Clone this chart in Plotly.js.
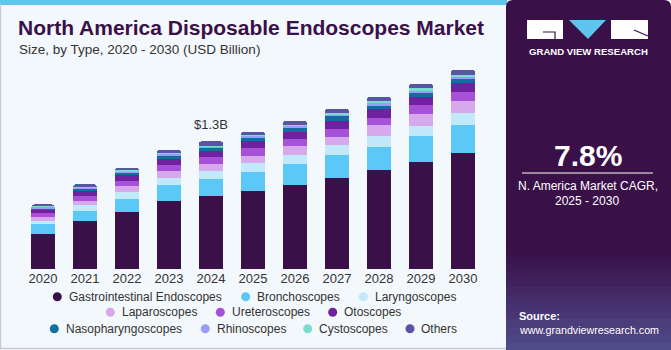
<!DOCTYPE html>
<html>
<head>
<meta charset="utf-8">
<script src="https://cdn.plot.ly/plotly-3.0.1.min.js"></script>
<style>
  html, body { margin: 0; padding: 0; background: #f3f8fc; }
  #chart { width: 671px; height: 350px; }
</style>
</head>
<body>
<div id="chart"></div>
<script>
// ---------- DATA (USD Billion) ----------
const years = ['2020','2021','2022','2023','2024','2025','2026','2027','2028','2029','2030'];
const gastrointestinal = [0.360, 0.490, 0.576, 0.688, 0.738, 0.789, 0.856, 0.924, 1.005, 1.087, 1.173];
const bronchoscopes    = [0.094, 0.099, 0.135, 0.166, 0.176, 0.199, 0.210, 0.234, 0.237, 0.267, 0.284];
const laryngoscopes    = [0.037, 0.061, 0.071, 0.074, 0.081, 0.088, 0.091, 0.098, 0.108, 0.102, 0.128];
const laparoscopes     = [0.037, 0.041, 0.058, 0.065, 0.071, 0.071, 0.088, 0.087, 0.112, 0.119, 0.122];
const ureteroscopes    = [0.045, 0.054, 0.057, 0.064, 0.074, 0.081, 0.077, 0.081, 0.074, 0.088, 0.088];
const otoscopes        = [0.023, 0.045, 0.058, 0.061, 0.061, 0.068, 0.071, 0.081, 0.088, 0.088, 0.098];
const nasopharyngo     = [0.017, 0.023, 0.020, 0.034, 0.024, 0.039, 0.043, 0.045, 0.034, 0.037, 0.036];
const rhinoscopes      = [0.013, 0.010, 0.013, 0.014, 0.013, 0.012, 0.015, 0.016, 0.024, 0.024, 0.023];
const cystoscopes      = [0.010, 0.010, 0.014, 0.013, 0.013, 0.013, 0.013, 0.017, 0.023, 0.023, 0.020];
const others           = [0.020, 0.027, 0.026, 0.030, 0.045, 0.034, 0.038, 0.041, 0.044, 0.048, 0.048];

const seriesNames = ['Gastrointestinal Endoscopes','Bronchoscopes','Laryngoscopes','Laparoscopes',
  'Ureteroscopes','Otoscopes','Nasopharyngoscopes','Rhinoscopes','Cystoscopes','Others'];
const seriesValues = [gastrointestinal, bronchoscopes, laryngoscopes, laparoscopes, ureteroscopes,
  otoscopes, nasopharyngo, rhinoscopes, cystoscopes, others];
const seriesColors = ['#3a1049','#5bc8f7','#c1e9fb','#d5a9ec','#a651d8','#6e22a0','#126ea0','#9a9cf7','#7bdccb','#5955a5'];

const labelYear = '2024';
const labelText = '$1.3B';
const cagrText = '7.8%';
const cagrCaption1 = 'N. America Market CAGR,';
const cagrCaption2 = '2025 - 2030';
const titleText = 'North America Disposable Endoscopes Market';
const subtitleText = 'Size, by Type, 2020 - 2030 (USD Billion)';

// ---------- LAYOUT HELPERS (pixel -> paper) ----------
const M = {l: 22, r: 187, t: 63, b: 81};
const PW = 671 - M.l - M.r, PH = 350 - M.t - M.b;
const px = x => (x - M.l) / PW;
const py = y => (350 - M.b - y) / PH;

const FONT = 'Liberation Sans, Arial, sans-serif';
const TXT = '#333333';

// ---------- TRACES ----------
const traces = seriesNames.map((n, i) => ({
  type: 'bar', name: n, x: years, y: seriesValues[i],
  marker: {color: seriesColors[i], line: {width: 0}},
  showlegend: false, hoverinfo: 'skip'
}));

// total for label
const idx = years.indexOf(labelYear);
const labelTotal = seriesValues.reduce((s, arr) => s + arr[idx], 0);

// ---------- SHAPES ----------
const shapes = [];
// top stripe
shapes.push({type:'rect', xref:'paper', yref:'paper', x0:px(0), x1:px(507), y0:py(0), y1:py(5),
  fillcolor:'#5ec5ef', line:{width:0}, layer:'below'});
// outer border (left & bottom)
shapes.push({type:'path', xref:'paper', yref:'paper',
  path:`M ${px(0.5)},${py(4)} L ${px(0.5)},${py(348.5)} L ${px(507)},${py(348.5)}`,
  line:{color:'#c9cbd0', width:1.5}, layer:'below'});
// right panel
shapes.push({type:'path', xref:'paper', yref:'paper',
  path:`M ${px(506)},${py(350)} L ${px(506)},${py(7)} Q ${px(506)},${py(0)} ${px(513)},${py(0)} L ${px(664)},${py(0)} Q ${px(671)},${py(0)} ${px(671)},${py(7)} L ${px(671)},${py(350)} Z`,
  fillcolor:'#3a1049', line:{width:0}, layer:'below'});
// panel bottom glow bands
for (let k = 0; k < 12; k++) {
  const y0 = 255 + k * 8, y1 = y0 + 8;
  shapes.push({type:'rect', xref:'paper', yref:'paper', x0:px(506), x1:px(671), y0:py(y0), y1:py(Math.min(y1,350)),
    fillcolor:'rgba(110,160,230,' + (0.03 + k * 0.035).toFixed(3) + ')', line:{width:0}, layer:'below'});
}
// logo blocks
shapes.push({type:'rect', xref:'paper', yref:'paper', x0:px(527), x1:px(563), y0:py(20), y1:py(39),
  fillcolor:'#ffffff', line:{width:0}});
shapes.push({type:'path', xref:'paper', yref:'paper',
  path:`M ${px(543)},${py(32)} L ${px(555)},${py(32)} L ${px(555)},${py(39)}`,
  line:{color:'#3a1049', width:1.2}});
shapes.push({type:'path', xref:'paper', yref:'paper',
  path:`M ${px(569)},${py(20)} L ${px(606)},${py(20)} L ${px(588)},${py(39)} Z`,
  fillcolor:'#5ec5ef', line:{width:0}});
shapes.push({type:'rect', xref:'paper', yref:'paper', x0:px(611), x1:px(648), y0:py(20), y1:py(39),
  fillcolor:'#ffffff', line:{width:0}});
shapes.push({type:'path', xref:'paper', yref:'paper',
  path:`M ${px(634)},${py(30)} L ${px(648)},${py(36)}`,
  line:{color:'#3a1049', width:1.2}});
// CAGR separator line
shapes.push({type:'line', xref:'paper', yref:'paper', x0:px(522), x1:px(653), y0:py(173), y1:py(173),
  line:{color:'#ffffff', width:1}});

// ---------- LEGEND (manual, circles + text) ----------
const legendPos = [
  [57.3, 296.7], [245.7, 296.7], [363.3, 296.7],
  [110.3, 312.3], [220.3, 312.3], [332.7, 312.3],
  [54.3, 328.7], [205.3, 328.7], [307.7, 328.7], [410, 328.7]
];
const annotations = [];
seriesNames.forEach((n, i) => {
  const [mx, my] = legendPos[i];
  shapes.push({type:'circle', xref:'paper', yref:'paper', xsizemode:'pixel', ysizemode:'pixel',
    xanchor:px(mx), yanchor:py(my), x0:-4.5, x1:4.5, y0:-4.5, y1:4.5,
    fillcolor:seriesColors[i], line:{width:0}});
  annotations.push({xref:'paper', yref:'paper', x:px(mx + 10.3), y:py(my), xanchor:'left', yanchor:'middle',
    text:n, showarrow:false, font:{family:FONT, size:12, color:TXT}, borderpad:0});
});

// other texts
annotations.push({xref:'paper', yref:'paper', x:px(18), y:py(49.5), xanchor:'left', yanchor:'middle',
  text:subtitleText, showarrow:false, font:{family:FONT, size:13.5, color:TXT}, borderpad:0});
annotations.push({x:idx, y:labelTotal, xref:'x', yref:'y', yanchor:'bottom', yshift:8,
  text:labelText, showarrow:false, font:{family:FONT, size:13, color:TXT}, borderpad:0});
annotations.push({xref:'paper', yref:'paper', x:px(588), y:py(51), xanchor:'center', yanchor:'middle',
  text:'<b>GRAND VIEW RESEARCH</b>', showarrow:false, font:{family:FONT, size:9.6, color:'#ffffff'}, borderpad:0});
annotations.push({xref:'paper', yref:'paper', x:px(588), y:py(155), xanchor:'center', yanchor:'middle',
  text:'<b>' + cagrText + '</b>', showarrow:false, font:{family:FONT, size:30, color:'#ffffff'}, borderpad:0});
annotations.push({xref:'paper', yref:'paper', x:px(588), y:py(186), xanchor:'center', yanchor:'middle',
  text:cagrCaption1, showarrow:false, font:{family:FONT, size:12, color:'#ffffff'}, borderpad:0});
annotations.push({xref:'paper', yref:'paper', x:px(587), y:py(201), xanchor:'center', yanchor:'middle',
  text:cagrCaption2, showarrow:false, font:{family:FONT, size:12, color:'#ffffff'}, borderpad:0});
annotations.push({xref:'paper', yref:'paper', x:px(518), y:py(316), xanchor:'left', yanchor:'middle',
  text:'<b>Source:</b>', showarrow:false, font:{family:FONT, size:11, color:'#ffffff'}, borderpad:0});
annotations.push({xref:'paper', yref:'paper', x:px(517.5), y:py(330), xanchor:'left', yanchor:'middle',
  text:'www.grandviewresearch.com', showarrow:false, font:{family:FONT, size:10.7, color:'#ffffff'}, borderpad:0});

const layout = {
  width: 671, height: 350,
  margin: M,
  paper_bgcolor: '#f3f8fc', plot_bgcolor: 'rgba(0,0,0,0)',
  title: {text: titleText, x: 18/671, xanchor: 'left', xref: 'container',
    y: 1 - 27.7/350, yanchor: 'middle', yref: 'container',
    font: {family: FONT, size: 21, color: '#3a1049', weight: 'bold'}},
  barmode: 'stack', bargap: 0.4286, barcornerradius: 3,
  xaxis: {type: 'category', showgrid: false, zeroline: false, showline: false, ticks: '',
    tickfont: {family: FONT, size: 13, color: TXT}, fixedrange: true,
    range: [-0.5, years.length - 0.5]},
  yaxis: {visible: false, range: [0, PH / 98.5], fixedrange: true},
  showlegend: false,
  shapes: shapes,
  annotations: annotations
};

Plotly.newPlot('chart', traces, layout, {displayModeBar: false, staticPlot: true});
</script>
</body>
</html>
